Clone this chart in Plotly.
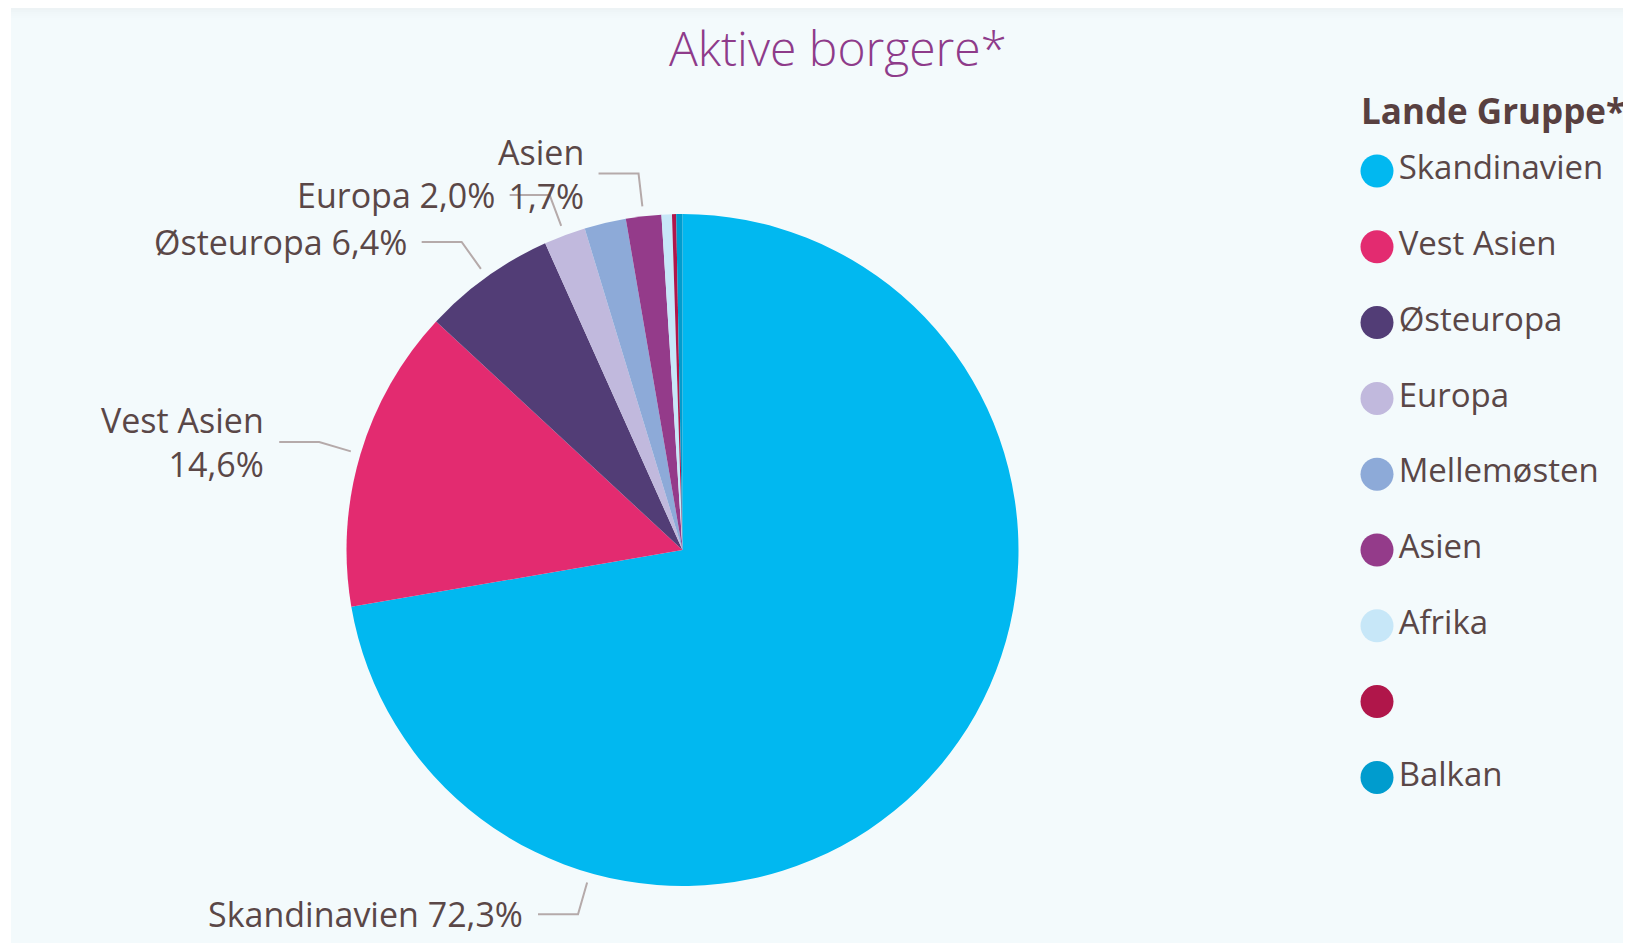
import math
import plotly.graph_objects as go

# ---------------- data ----------------
categories = ["Skandinavien", "Vest Asien", "Østeuropa", "Europa", "Mellemøsten",
              "Asien", "Afrika", "", "Balkan"]
shares = [72.3, 14.6, 6.4, 2.0, 2.0, 1.7, 0.5, 0.2, 0.3]
colors = ["#01B8F0", "#E32B70", "#523D76", "#C1B9DD", "#8DAAD8",
          "#943B8A", "#C7E7F8", "#B0164A", "#009CCE"]
labelled = ["Skandinavien", "Vest Asien", "Østeuropa", "Europa", "Asien"]
two_line = ["Vest Asien", "Asien"]
title_text = "Aktive borgere*"
legend_title = "Lande Gruppe*"

# ---------------- layout constants ----------------
OFF = 8                      # page body margin
FW, FH = 1623, 935           # figure size so it fills the window from the offset
CX, CY, R = 682.5, 550.0, 336.0          # pie centre / radius in page px
LABEL_ANGLE_OVERRIDE = {"Skandinavien": 196.0}
GAP, RADIAL, HORIZ, TEXTGAP = 10, 33, 40, 13
FONT = "Open Sans, Segoe UI, Liberation Sans, sans-serif"
TXT = "#5A4747"
LINE = "#B5AAAA"

def px(x):
    return (x - OFF) / FW

def py(y):
    return 1 - (y - OFF) / FH

fig = go.Figure()

fig.add_trace(go.Pie(
    labels=[c if c else " " for c in categories],
    values=shares,
    sort=False,
    direction="clockwise",
    rotation=0,
    marker=dict(colors=colors, line=dict(width=0)),
    textinfo="none",
    hoverinfo="label+percent",
    showlegend=False,
    domain=dict(x=[px(CX - R), px(CX + R)], y=[py(CY + R), py(CY - R)]),
))

# legend drawn as a scatter of the categories
n = len(categories)
fig.add_trace(go.Scatter(
    x=[0] * n,
    y=list(range(n)),
    mode="markers+text",
    text=categories,
    textposition="middle right",
    textfont=dict(family=FONT, size=33, color=TXT),
    marker=dict(size=33, color=colors, symbol="circle", line=dict(width=0)),
    cliponaxis=False,
    hoverinfo="skip",
    showlegend=False,
))

LEG_TOP, LEG_STEP = 171.0, 75.8
fig.update_layout(
    xaxis=dict(domain=[px(1361), 1.0], range=[-16, 254], visible=False, fixedrange=True),
    yaxis=dict(domain=[py(LEG_TOP + LEG_STEP * (n - 1) + LEG_STEP / 2), py(LEG_TOP - LEG_STEP / 2)],
               range=[n - 0.5, -0.5], visible=False, fixedrange=True),
)

shapes = []
# panel background
shapes.append(dict(type="rect", xref="paper", yref="paper", x0=px(11), x1=1.01, y0=-0.01, y1=py(4),
                   fillcolor="#F3FAFC", line=dict(width=0), layer="below"))
grad = ["#E9EEF1", "#EBF0F3", "#EDF3F5", "#EEF5F7", "#F0F7F9", "#F1F8FA", "#F2F9FB", "#F3FAFC"]
for i, c in enumerate(grad):
    shapes.append(dict(type="rect", xref="paper", yref="paper", x0=px(11), x1=1.01,
                       y0=py(4 + 2 * (i + 1)), y1=py(4 + 2 * i),
                       fillcolor=c, line=dict(width=0), layer="below"))

annotations = []
total = sum(shares)
cum = 0.0
for cat, v in zip(categories, shares):
    start = cum
    cum += v
    if cat not in labelled:
        continue
    pct = v / total * 100
    pct_txt = f"{pct:.1f}".replace(".", ",") + "%"
    ang = LABEL_ANGLE_OVERRIDE.get(cat, (start + v / 2) / total * 360.0)
    a = math.radians(ang)
    dx, dy = math.sin(a), -math.cos(a)
    ax, ay = CX + (R + GAP) * dx, CY + (R + GAP) * dy
    ex, ey = ax + RADIAL * dx, ay + RADIAL * dy
    side = 1 if dx >= 0 else -1
    hx = ex + side * HORIZ
    shapes.append(dict(type="path", xref="paper", yref="paper",
                       path=f"M {px(ax)},{py(ay)} L {px(ex)},{py(ey)} L {px(hx)},{py(ey)}",
                       line=dict(color=LINE, width=2)))
    txt = f"{cat}<br>{pct_txt}" if cat in two_line else f"{cat} {pct_txt}"
    annotations.append(dict(
        x=px(hx + side * TEXTGAP), y=py(ey), xref="paper", yref="paper",
        xanchor="left" if side > 0 else "right", yanchor="middle",
        align="left" if side > 0 else "right",
        text=txt, showarrow=False,
        font=dict(family=FONT, size=34, color=TXT)))

# title
annotations.append(dict(x=px(838), y=py(48), xref="paper", yref="paper",
                        xanchor="center", yanchor="middle", text=title_text, showarrow=False,
                        font=dict(family=FONT, size=48, color="#8E3B8A", weight=300)))
# legend title
annotations.append(dict(x=px(1359), y=py(111), xref="paper", yref="paper",
                        xanchor="left", yanchor="middle", text=f"<b>{legend_title}</b>",
                        showarrow=False, font=dict(family=FONT, size=35, color="#584040")))

fig.update_layout(
    width=FW, height=FH,
    margin=dict(l=0, r=0, t=0, b=0),
    paper_bgcolor="white",
    plot_bgcolor="rgba(0,0,0,0)",
    shapes=shapes,
    annotations=annotations,
    showlegend=False,
)

fig.write_html("out.html")
